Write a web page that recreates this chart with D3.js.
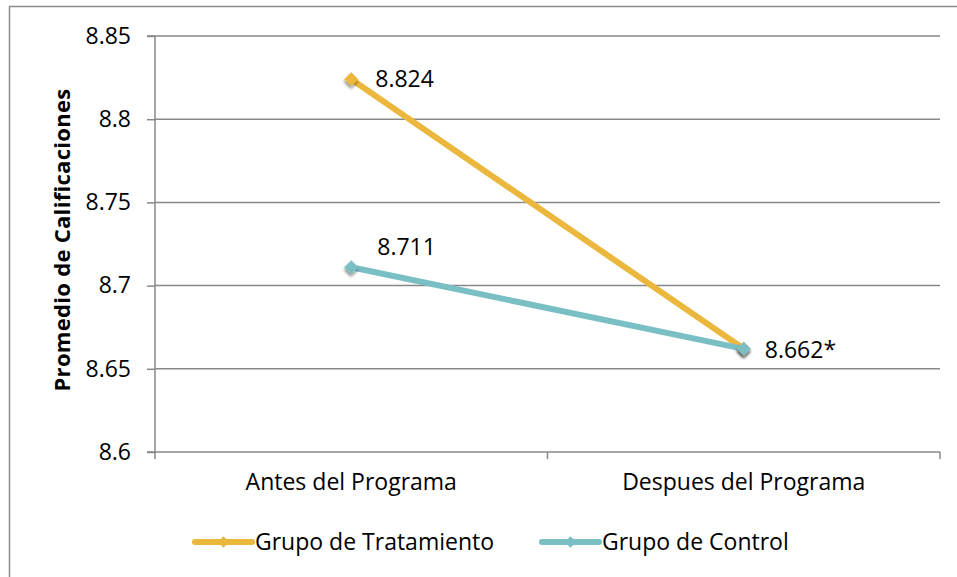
<!DOCTYPE html>
<html><head><meta charset="utf-8">
<script src="https://cdn.jsdelivr.net/npm/d3@7"></script>
<style>body{margin:0;background:#fff}svg{display:block}text{font-family:"Open Sans",Lato,sans-serif;fill:#000}</style>
</head><body><svg id="c" width="957" height="577"></svg>
<script>
const categories = ["Antes del Programa", "Despues del Programa"];
const seriesNames = ["Grupo de Tratamiento", "Grupo de Control"];
const tratamiento = [8.824, 8.662];
const control = [8.711, 8.662];
const labelsTratamiento = ["8.824", ""];
const labelsControl = ["8.711", "8.662*"];
const yTicks = [8.6, 8.65, 8.7, 8.75, 8.8, 8.85];
const yTickLabels = ["8.6", "8.65", "8.7", "8.75", "8.8", "8.85"];
const colors = ["#EBB73C", "#79BFC4"];

const FS = 23;
const svg = d3.select("#c");
const L = 155, R = 940, T = 36, B = 452;
svg.append("path").attr("d", `M9.5,577 V6.5 H957`).attr("fill", "none").attr("stroke", "#8c8c8c").attr("stroke-width", 1.5);

const x = d3.scaleBand().domain(categories).range([L, R]);
const y = d3.scaleLinear().domain([8.6, 8.85]).range([B, T]);

const defs = svg.append("defs");
const f = defs.append("filter").attr("id", "sh").attr("x", "-50%").attr("y", "-50%").attr("width", "200%").attr("height", "200%");
f.append("feDropShadow").attr("dx", 1.5).attr("dy", 2).attr("stdDeviation", 1.5).attr("flood-color", "#000").attr("flood-opacity", 0.45);

svg.append("g").selectAll("line").data(yTicks.slice(1)).join("line")
  .attr("x1", L).attr("x2", R).attr("y1", d => y(d)).attr("y2", d => y(d))
  .attr("stroke", "#888").attr("stroke-width", 1.5);

const yAxis = d3.axisLeft(y).tickValues(yTicks).tickFormat((d, i) => yTickLabels[i]).tickSize(8).tickPadding(16);
const gy = svg.append("g").attr("transform", `translate(${L},0)`).call(yAxis);
gy.select(".domain").attr("stroke", "#888").attr("stroke-width", 1.5).attr("d", `M-8,${T}H0V${B}H-8`);
gy.selectAll(".tick line").attr("stroke", "#888").attr("stroke-width", 1.5);
gy.selectAll(".tick text").attr("font-size", FS).attr("font-family", "'Open Sans', sans-serif").attr("fill", "#000");

const xAxis = d3.axisBottom(x).tickSize(0).tickPadding(22);
const gx = svg.append("g").attr("transform", `translate(0,${B})`).call(xAxis);
gx.select(".domain").attr("stroke", "#888").attr("stroke-width", 1.5).attr("d", `M${L},0H${R}`);
gx.selectAll(".tick text").attr("font-size", FS).attr("font-family", "'Open Sans', sans-serif").attr("fill", "#000");
const xb = [L, L + x.bandwidth(), R];
svg.append("g").selectAll("line").data(xb).join("line")
  .attr("x1", d => d).attr("x2", d => d).attr("y1", B).attr("y2", B + 7)
  .attr("stroke", "#888").attr("stroke-width", 1.5);

svg.append("text").attr("transform", `translate(70,240) rotate(-90)`)
  .attr("text-anchor", "middle").attr("font-weight", "bold").attr("font-size", 22)
  .attr("letter-spacing", 0.3)
  .text("Promedio de Calificaciones");

const cx = c => x(c) + x.bandwidth() / 2;
const line = d3.line().x((d, i) => cx(categories[i])).y(d => y(d));

[[tratamiento, colors[0]], [control, colors[1]]].forEach(([vals, col]) => {
  svg.append("path").datum(vals).attr("d", line).attr("fill", "none")
    .attr("stroke", col).attr("stroke-width", 6).attr("stroke-linecap", "butt");
});
[[tratamiento, colors[0]], [control, colors[1]]].forEach(([vals, col]) => {
  svg.append("g").selectAll("path").data(vals).join("path")
    .attr("transform", (d, i) => `translate(${cx(categories[i])},${y(d)}) rotate(45)`)
    .attr("d", d3.symbol().type(d3.symbolSquare).size(100)).attr("fill", col).attr("filter", "url(#sh)");
});

svg.append("g").selectAll("text").data(tratamiento).join("text")
  .attr("x", (d, i) => cx(categories[i]) + 24).attr("y", d => y(d) + 8)
  .attr("font-size", FS).text((d, i) => labelsTratamiento[i]);
svg.append("g").selectAll("text").data(control).join("text")
  .attr("x", (d, i) => cx(categories[i]) + (i === 0 ? 26 : 21)).attr("y", (d, i) => y(d) + (i === 0 ? -12 : 9))
  .attr("font-size", FS).text((d, i) => labelsControl[i]);

const legX = [195, 542];
const lg = svg.append("g").selectAll("g").data(seriesNames).join("g")
  .attr("transform", (d, i) => `translate(${legX[i]},542)`);
lg.append("line").attr("x1", 0).attr("x2", 57).attr("stroke", (d, i) => colors[i]).attr("stroke-width", 6).attr("stroke-linecap", "round");
lg.append("path").attr("transform", "translate(28.5,0) rotate(45)").attr("d", d3.symbol().type(d3.symbolSquare).size(64))
  .attr("fill", (d, i) => colors[i]);
lg.append("text").attr("x", 60).attr("y", 8).attr("font-size", FS).text(d => d);
</script></body></html>
